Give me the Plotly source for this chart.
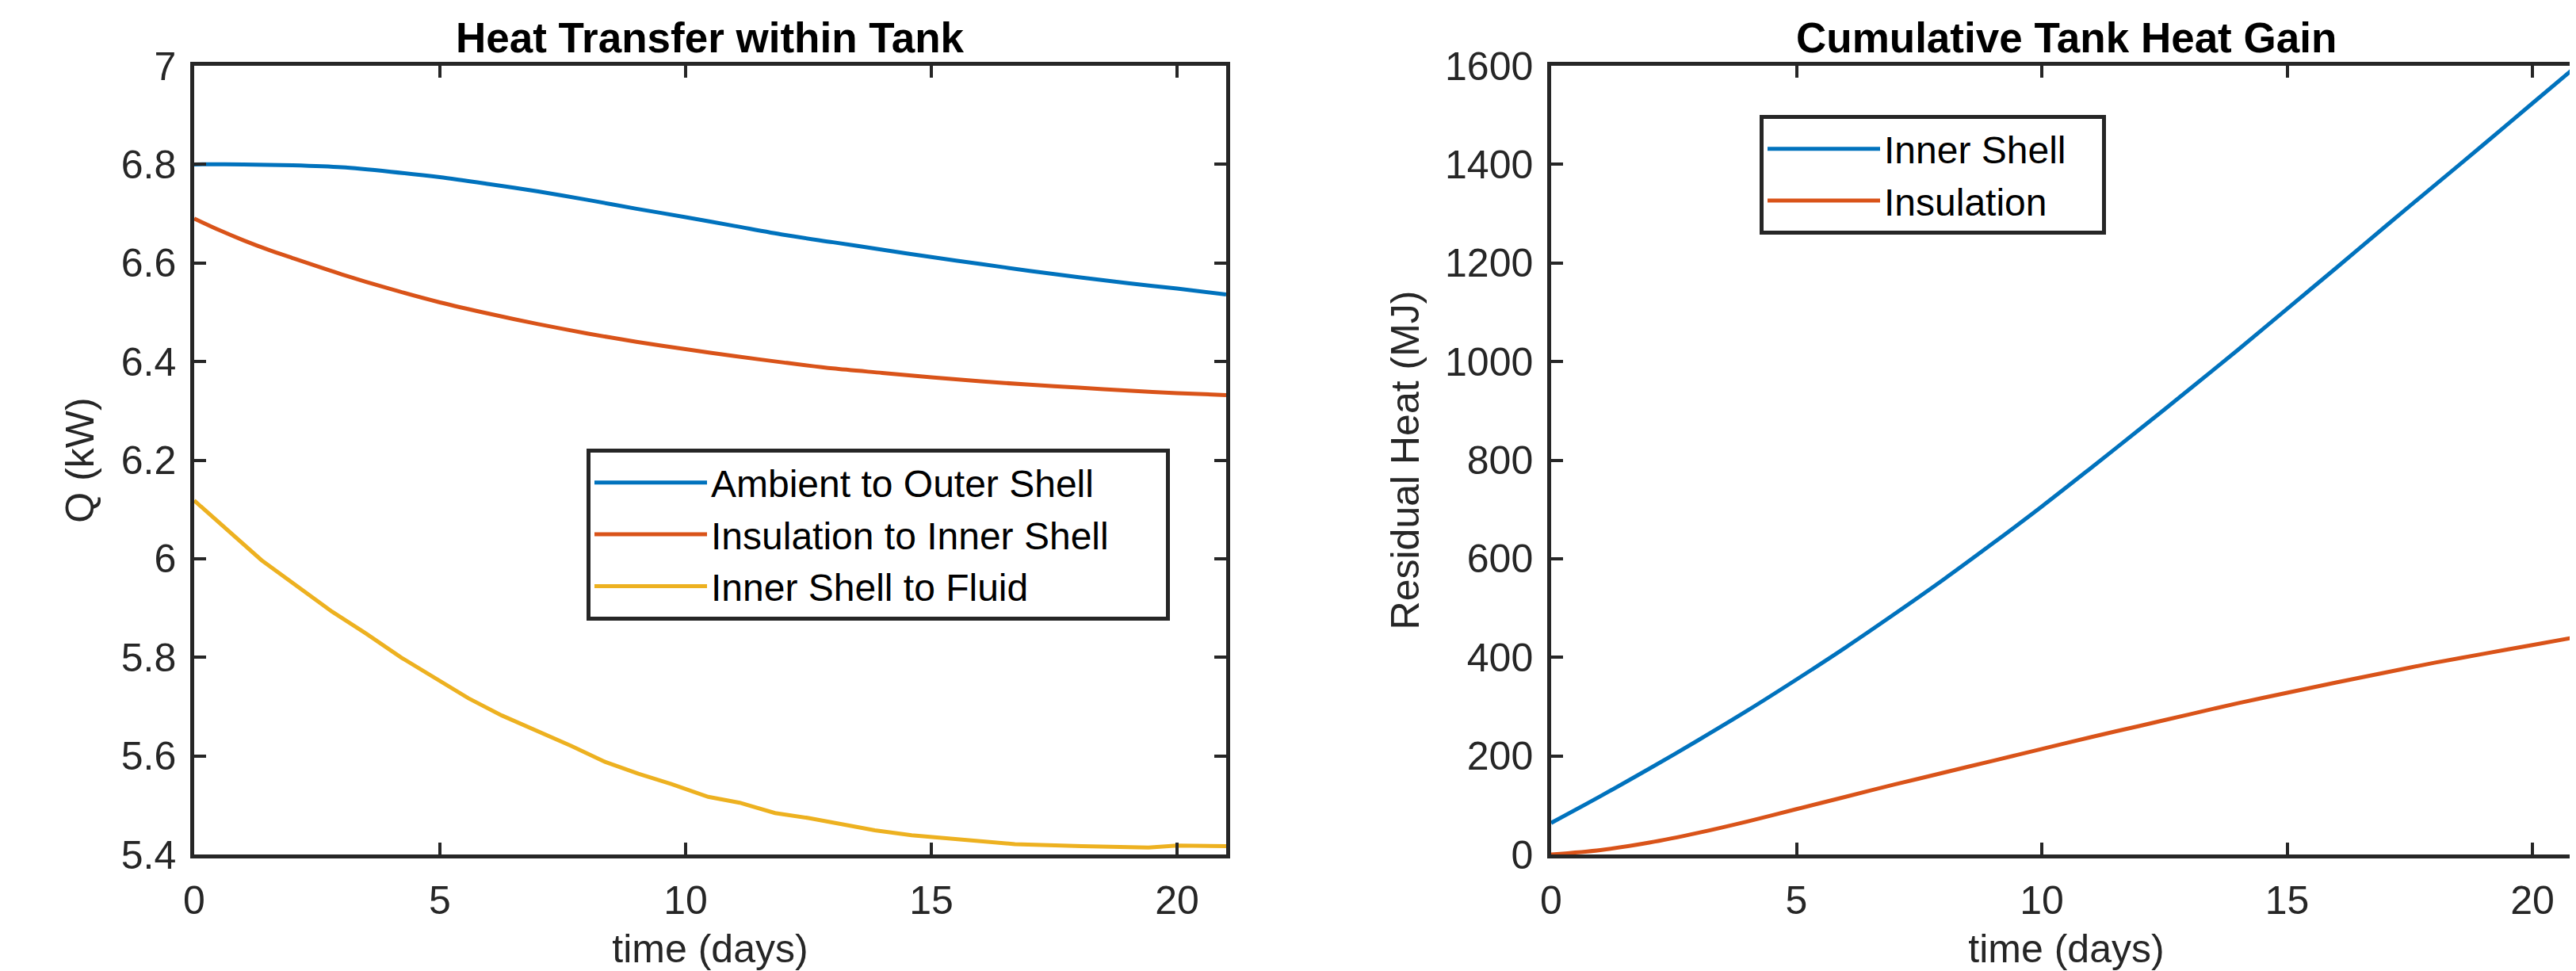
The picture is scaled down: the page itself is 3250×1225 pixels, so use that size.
import plotly.graph_objects as go

# ---------------- data ----------------
days_blue = list(range(22))
q_ambient_outer = [6.800, 6.800, 6.798, 6.794, 6.785, 6.774, 6.760, 6.745, 6.728, 6.710, 6.693,
                   6.675, 6.657, 6.642, 6.627, 6.612, 6.598, 6.584, 6.571, 6.559, 6.548, 6.536]

days_orange = [0, 0.5, 1, 1.5, 2, 3, 4, 5, 6, 7, 8, 9, 10, 11, 12, 13, 14, 15, 16, 17, 18, 19, 20, 21]
q_insul_inner = [6.690, 6.667, 6.646, 6.627, 6.610, 6.577, 6.547, 6.520, 6.497, 6.476, 6.457, 6.440,
                 6.425, 6.411, 6.398, 6.386, 6.377, 6.368, 6.360, 6.353, 6.347, 6.341, 6.336, 6.332]

days_yellow = [0, 1.37, 2.8, 3.5, 4.22, 4.9, 5.58, 6.26, 7.0, 7.68, 8.36, 9.04, 9.71, 10.46, 11.1,
               11.82, 12.5, 13.2, 13.85, 14.6, 15.3, 16.0, 16.7, 18.06, 19.42, 20.0, 21.0]
q_shell_fluid = [6.118, 5.997, 5.893, 5.848, 5.799, 5.757, 5.717, 5.682, 5.650, 5.620, 5.588, 5.564,
                 5.543, 5.517, 5.505, 5.484, 5.474, 5.460, 5.449, 5.439, 5.433, 5.425, 5.421, 5.417,
                 5.414, 5.418, 5.417]

days_cum = list(range(22))
heat_inner_shell = [64, 118, 174, 232, 292, 355, 420, 488, 558, 631, 706, 784, 863, 943, 1024,
                    1107, 1190, 1274, 1357, 1440, 1524, 1608]
heat_insulation = [0, 9, 24, 44, 67, 92, 117, 142, 166, 190, 214, 238, 261, 284, 307, 328, 349,
                   369, 389, 407, 425, 443]

x_ticks = [0, 5, 10, 15, 20]
q_ticks = [5.4, 5.6, 5.8, 6.0, 6.2, 6.4, 6.6, 6.8, 7.0]
q_tick_text = ["5.4", "5.6", "5.8", "6", "6.2", "6.4", "6.6", "6.8", "7"]
heat_ticks = [0, 200, 400, 600, 800, 1000, 1200, 1400, 1600]

# ---------------- style / layout ----------------
BLUE, ORANGE, YELLOW = "#0072BD", "#D95319", "#EDB120"
AX = "#262626"
FONT = "Liberation Sans, Arial, Helvetica, sans-serif"
FS = 50      # tick labels / axis titles
FL = 48      # legend text
FT = 53      # plot titles
LW = 5
PADL = "\u00a0" * 5   # right padding inside the legend boxes (MATLAB style)
PADR = "\u00a0" * 3

OFF = 8                      # default body margin of the html page
PAGE_W, PAGE_H = 3250, 1225
AX_L1, AX_R1 = 245, 1547     # page px of left axes
AX_L2, AX_R2 = 1957, 3257    # page px of right axes (right edge just off the page)
AX_T, AX_B = 83, 1078

W = AX_R2 - OFF
H = PAGE_H - OFF
ML = AX_L1 - OFF
MR = 0
MT = AX_T - OFF
MB = H - (AX_B - OFF)
pw = W - ML - MR
ph = H - MT - MB


def px_x(p):
    return (p - OFF - ML) / pw


def px_y(p):
    return (H - MB - (p - OFF)) / ph


fig = go.Figure()
fig.add_trace(go.Scatter(x=days_blue, y=q_ambient_outer, mode="lines", name="Ambient to Outer Shell",
                         line=dict(color=BLUE, width=LW, shape="spline", smoothing=0.8),
                         xaxis="x", yaxis="y", legend="legend"))
fig.add_trace(go.Scatter(x=days_orange, y=q_insul_inner, mode="lines",
                         name="Insulation to Inner Shell" + PADL,
                         line=dict(color=ORANGE, width=LW, shape="spline", smoothing=0.8),
                         xaxis="x", yaxis="y", legend="legend"))
fig.add_trace(go.Scatter(x=days_yellow, y=q_shell_fluid, mode="lines", name="Inner Shell to Fluid",
                         line=dict(color=YELLOW, width=LW),
                         xaxis="x", yaxis="y", legend="legend"))
fig.add_trace(go.Scatter(x=days_cum, y=heat_inner_shell, mode="lines", name="Inner Shell" + PADR,
                         line=dict(color=BLUE, width=LW, shape="spline", smoothing=0.8),
                         xaxis="x2", yaxis="y2", legend="legend2"))
fig.add_trace(go.Scatter(x=days_cum, y=heat_insulation, mode="lines", name="Insulation",
                         line=dict(color=ORANGE, width=LW, shape="spline", smoothing=0.8),
                         xaxis="x2", yaxis="y2", legend="legend2"))

axis_common = dict(showline=True, linecolor=AX, linewidth=4.5, mirror="ticks",
                   ticks="inside", ticklen=15, tickwidth=4, tickcolor=AX,
                   showgrid=False, zeroline=False, automargin=False,
                   tickfont=dict(family=FONT, size=FS, color=AX))

legend_common = dict(xanchor="left", yanchor="top", bgcolor="white", bordercolor=AX, borderwidth=5,
                     font=dict(family=FONT, size=FL, color="black"), itemwidth=142,
                     tracegroupgap=0)

fig.update_layout(
    width=W, height=H,
    margin=dict(l=ML, r=MR, t=MT, b=MB, pad=0, autoexpand=False),
    paper_bgcolor="white", plot_bgcolor="white",
    font=dict(family=FONT, size=FS, color=AX),
    xaxis=dict(axis_common, domain=[0, px_x(AX_R1)], range=[0, 21], tickvals=x_ticks,
               title=dict(text="time (days)", font=dict(size=FS, color=AX), standoff=32),
               ticklabelstandoff=10, anchor="y"),
    yaxis=dict(axis_common, domain=[0, 1], range=[5.4, 7.0], tickvals=q_ticks, ticktext=q_tick_text,
               title=dict(text="Q (kW)", font=dict(size=FS, color=AX), standoff=20),
               ticklabelstandoff=8, anchor="x"),
    xaxis2=dict(axis_common, domain=[px_x(AX_L2), 1.0], range=[0, 21], tickvals=x_ticks,
                title=dict(text="time (days)", font=dict(size=FS, color=AX), standoff=32),
                ticklabelstandoff=10, anchor="y2"),
    yaxis2=dict(axis_common, domain=[0, 1], range=[0, 1600], tickvals=heat_ticks,
                title=dict(text="Residual Heat (MJ)", font=dict(size=FS, color=AX), standoff=18),
                ticklabelstandoff=8, anchor="x2"),
    legend=dict(legend_common, x=px_x(740), y=px_y(566)),
    legend2=dict(legend_common, x=px_x(2220), y=px_y(145)),
    showlegend=True,
    annotations=[
        dict(text="<b>Heat Transfer within Tank</b>", xref="x domain", yref="y domain", x=0.5, y=1,
             xanchor="center", yanchor="bottom", yshift=4, showarrow=False,
             font=dict(family=FONT, size=FT, color="black")),
        dict(text="<b>Cumulative Tank Heat Gain</b>", xref="x2 domain", yref="y2 domain", x=0.5, y=1,
             xanchor="center", yanchor="bottom", yshift=4, showarrow=False,
             font=dict(family=FONT, size=FT, color="black")),
    ],
)

fig.write_html("out.html", config={"displayModeBar": False})
